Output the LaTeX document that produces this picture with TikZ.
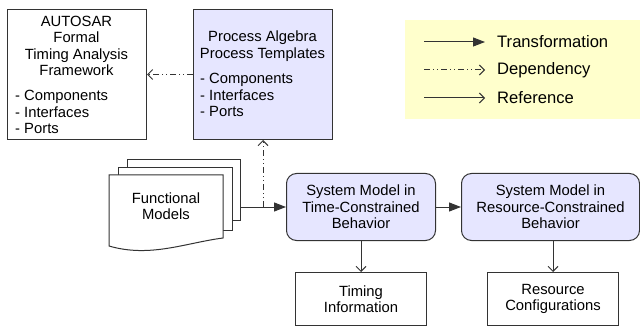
\documentclass[tikz,border=0pt]{standalone}
\usepackage{fontspec}
\setmainfont{Liberation Sans}
\usetikzlibrary{arrows.meta}
\definecolor{lineclr}{HTML}{333333}
\definecolor{procfill}{HTML}{E6E6FF}
\definecolor{legfill}{HTML}{FFFFCC}
\tikzset{
  body/.style={font=\fontsize{14.8}{16.5}\selectfont},
  legtext/.style={font=\fontsize{16.6}{18}\selectfont, anchor=west, inner sep=0pt},
  plainbox/.style={draw=lineclr, line width=1pt, fill=white, inner sep=0pt, anchor=north west},
  procbox/.style={plainbox, fill=procfill},
  roundbox/.style={procbox, rounded corners=10pt, body, align=center},
  outbox/.style={plainbox, body, align=center},
  docsheet/.style={draw=lineclr, line width=1pt, fill=white},
  trans/.style={draw=lineclr, line width=1pt, -{Triangle[length=12pt,width=9pt]}},
  depend/.style={draw=lineclr, line width=1pt, dash pattern=on 6pt off 3pt on 1pt off 3pt on 1pt off 3pt, -{Straight Barb[length=5pt,width=10pt]}},
  refer/.style={draw=lineclr, line width=1pt, -{Straight Barb[length=5pt,width=10pt]}},
}
\begin{document}
\begin{tikzpicture}[x=1pt,y=-1pt]
\useasboundingbox (0,0) rectangle (640,326);

% AUTOSAR framework box
\node[plainbox, minimum width=139pt, minimum height=130pt] (autosar) at (7,9) {};
\node[body, align=center, inner sep=0pt] (autosartitle) at (76.5,46) {AUTOSAR\\Formal\\Timing Analysis\\Framework};
\node[body, align=left, inner sep=0pt, anchor=west] (autosarlist) at (15,112) {- Components\\- Interfaces\\- Ports};

% Process algebra templates box
\node[procbox, minimum width=139pt, minimum height=130pt] (pa) at (193,9) {};
\node[body, align=center, inner sep=0pt] (patitle) at (262.5,46) {Process Algebra\\Process Templates};
\node[body, align=left, inner sep=0pt, anchor=west] (palist) at (200,95) {- Components\\- Interfaces\\- Ports};

% Legend
\node[fill=legfill, inner sep=0pt, anchor=north west, minimum width=235pt, minimum height=99pt] (legend) at (405,20) {};
\coordinate (lta) at (424,42);  \coordinate (ltb) at (485,42);
\coordinate (lda) at (424,70);  \coordinate (ldb) at (485,70);
\coordinate (lra) at (424,98);  \coordinate (lrb) at (485,98);
\draw[trans] (lta) -- (ltb);
\draw[depend] (lda) -- (ldb);
\draw[refer] (lra) -- (lrb);
\node[legtext] (ltt) at (497,42) {Transformation};
\node[legtext] (ldt) at (497,70) {Dependency};
\node[legtext] (lrt) at (497,98) {Reference};

% Functional models: stack of documents
\node[docsheet, inner sep=0pt, anchor=north west, minimum width=113pt, minimum height=61pt] (fmback) at (127,159) {};
\node[docsheet, inner sep=0pt, anchor=north west, minimum width=114pt, minimum height=63pt] (fmmid) at (118,167) {};
\draw[docsheet] (109,175) -- (223,175) -- (223,238)
  .. controls (185,243) and (150,258) .. (109,246) -- cycle;
\node[body, align=center, inner sep=0pt] (fmtext) at (166,206) {Functional\\Models};

% System models
\node[roundbox, minimum width=149pt, minimum height=67pt] (time) at (286,173) {System Model in\\Time-Constrained\\Behavior};
\node[roundbox, minimum width=178pt, minimum height=67pt] (res) at (461,173) {System Model in\\Resource-Constrained\\Behavior};

% Results
\node[outbox, minimum width=131pt, minimum height=53pt] (timing) at (295,272) {Timing\\Information};
\node[outbox, minimum width=131pt, minimum height=53pt] (conf) at (487,272) {Resource\\Configurations};

% Connectors
\draw[trans] (fmback.east |- time.west) -- (time.west);
\draw[trans] (time.east) -- (res.west);
\draw[depend] (pa.south |- time.west) -- (pa.south);
\draw[depend] (pa.west) -- (autosar.east);
\draw[refer] (time.south) -- (timing.north);
\draw[refer] (conf.north |- res.south) -- (conf.north);
\end{tikzpicture}
\end{document}
